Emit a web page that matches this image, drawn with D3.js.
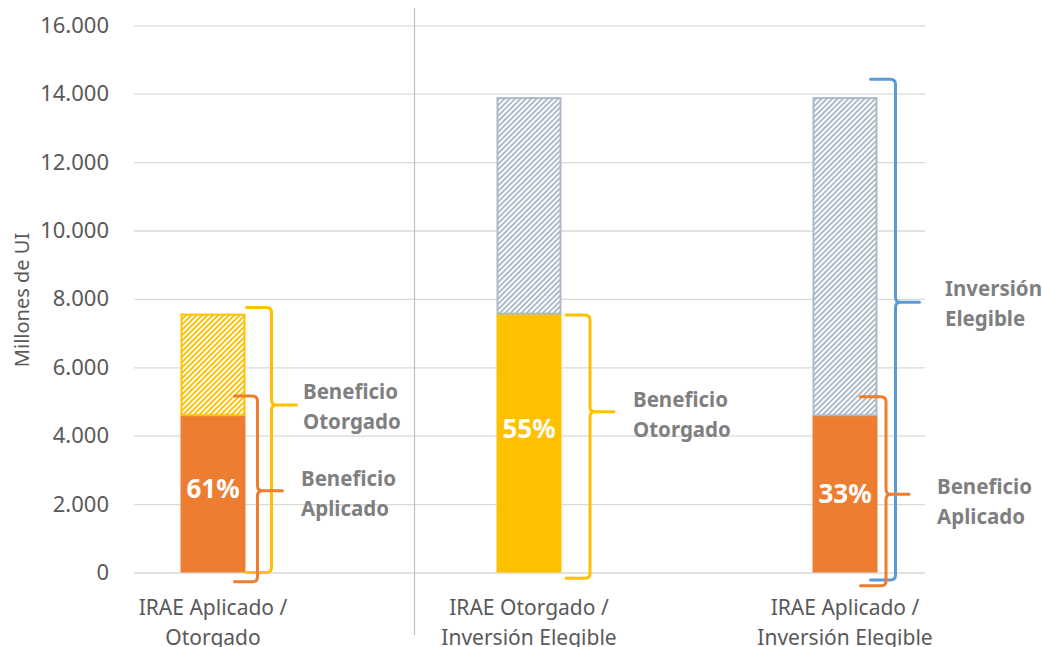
<!DOCTYPE html>
<html><head><meta charset="utf-8">
<script src="https://cdn.jsdelivr.net/npm/d3@7"></script>
<style>body{margin:0;background:#fff;} svg{display:block;}</style>
</head><body>
<svg id="chart" width="1042" height="647"></svg>
<script>
// ---- data ----
const categories = ["IRAE Aplicado / Otorgado", "IRAE Otorgado / Inversión Elegible", "IRAE Aplicado / Inversión Elegible"];
const categoryLines = [["IRAE Aplicado /", "Otorgado"], ["IRAE Otorgado /", "Inversión Elegible"], ["IRAE Aplicado /", "Inversión Elegible"]];
const baseValues = [4600, 7570, 4600];          // solid segment
const totalValues = [7570, 13900, 13900];       // top of hatched segment
const baseSeries = ["aplicado", "otorgado", "aplicado"];
const topSeries = ["otorgado", "inversion", "inversion"];
const percentLabels = ["61%", "55%", "33%"];
const yTicks = [0, 2000, 4000, 6000, 8000, 10000, 12000, 14000, 16000];

// ---- annotation braces (values in data units) ----
const braces = [
  {cat: 0, from: 7750, to: 0, tip: 4900, color: "#FFC000", dx: 26, start: 1, tipLen: 25, lines: ["Beneficio", "Otorgado"], lx: 303, ly: 4900},
  {cat: 0, from: 5160, to: -270, tip: 2390, color: "#ED7D31", dx: 12, start: -11, tipLen: 25, lines: ["Beneficio", "Aplicado"], lx: 301, ly: 2350},
  {cat: 1, from: 7530, to: -170, tip: 4700, color: "#FFC000", dx: 28.5, start: 4.5, tipLen: 24, lines: ["Beneficio", "Otorgado"], lx: 633, ly: 4650},
  {cat: 2, from: 14420, to: -220, tip: 7900, color: "#5B9BD5", dx: 18, start: -7, tipLen: 24, lines: ["Inversión", "Elegible"], lx: 945, ly: 7900},
  {cat: 2, from: 5140, to: -385, tip: 2290, color: "#ED7D31", dx: 8.5, start: -17, tipLen: 23, lines: ["Beneficio", "Aplicado"], lx: 937, ly: 2130}
];

const colors = {aplicado: "#ED7D31", otorgado: "#FFC000", inversion: "#ADB9CA"};

const svg = d3.select("#chart");
const font = "'Noto Sans', 'DejaVu Sans', sans-serif";
const plotLeft = 134, plotRight = 925;
const y = d3.scaleLinear().domain([0, 16000]).range([572.5, 25.3]);
const x = d3.scalePoint().domain(categories).range([213, 845]);
const barW = 65;

const loc = d3.formatLocale({decimal: ",", thousands: ".", grouping: [3], currency: ["", ""]});
const fmt = loc.format(",.0f");

// patterns
const defs = svg.append("defs");
function hatch(id, color) {
  const s = 3.8;
  const p = defs.append("pattern").attr("id", id).attr("patternUnits", "userSpaceOnUse")
    .attr("width", s).attr("height", s).attr("patternTransform", "rotate(45)");
  p.append("rect").attr("width", s).attr("height", s).attr("fill", "#fff");
  p.append("rect").attr("width", s * 0.5).attr("height", s).attr("fill", color);
}
hatch("h-otorgado", colors.otorgado);
hatch("h-inversion", colors.inversion);

// gridlines + y axis
const yAxis = d3.axisLeft(y).tickValues(yTicks).tickFormat(d => fmt(d))
  .tickSize(-(plotRight - plotLeft)).tickPadding(25);
const ga = svg.append("g").attr("transform", `translate(${plotLeft},0)`).call(yAxis);
ga.select(".domain").remove();
ga.selectAll(".tick line").attr("stroke", "#d9d9d9").attr("stroke-width", 1.3);
ga.selectAll(".tick text").attr("fill", "#595959").attr("font-size", 22).attr("font-family", font);

// separator line
svg.append("line").attr("x1", 414.5).attr("x2", 414.5).attr("y1", 8).attr("y2", 635)
  .attr("stroke", "#bfbfbf").attr("stroke-width", 1.2);

// y-axis title
svg.append("text").attr("transform", "translate(29,300) rotate(-90)")
  .attr("text-anchor", "middle").attr("font-family", font).attr("font-size", 20)
  .attr("fill", "#595959").text("Millones de UI");

// bars
const g = svg.append("g");
categories.forEach((c, i) => {
  const cx = x(c);
  g.append("rect").attr("x", cx - barW / 2).attr("width", barW)
    .attr("y", y(baseValues[i])).attr("height", y(0) - y(baseValues[i]))
    .attr("fill", colors[baseSeries[i]]);
  g.append("rect").attr("x", cx - barW / 2 + 1).attr("width", barW - 2)
    .attr("y", y(totalValues[i]) + 1).attr("height", y(baseValues[i]) - y(totalValues[i]) - 1)
    .attr("fill", `url(#h-${topSeries[i]})`)
    .attr("stroke", colors[topSeries[i]]).attr("stroke-width", 2);
});

// percent labels
const pctAt = [2450, 4200, 2300];
categories.forEach((c, i) => {
  svg.append("text").attr("x", x(c)).attr("y", y(pctAt[i]))
    .attr("dy", "0.35em").attr("text-anchor", "middle").attr("font-family", font)
    .attr("font-weight", "bold").attr("font-size", 26).attr("fill", "#fff").text(percentLabels[i]);
});

// braces
braces.forEach(b => {
  const right = x(categories[b.cat]) + barW / 2;
  const xv = right + b.dx, xs = right + b.start, xt = xv + b.tipLen;
  const yT = y(b.from), yB = y(b.to), yM = y(b.tip), r = 5;
  const d = `M${xs},${yT} L${xv - r},${yT} Q${xv},${yT} ${xv},${yT + r} L${xv},${yM - r} Q${xv},${yM} ${xv + r},${yM} L${xt},${yM}` +
            ` M${xv + r},${yM} Q${xv},${yM} ${xv},${yM + r} L${xv},${yB - r} Q${xv},${yB} ${xv - r},${yB} L${xs},${yB}`;
  svg.append("path").attr("d", d).attr("fill", "none").attr("stroke", b.color)
    .attr("stroke-width", 3).attr("stroke-linecap", "round");
  const t = svg.append("text").attr("x", b.lx).attr("y", y(b.ly)).attr("font-family", font)
    .attr("font-weight", "bold").attr("font-size", 20.5).attr("fill", "#7f7f7f");
  b.lines.forEach((ln, k) => {
    t.append("tspan").attr("x", b.lx).attr("dy", k === 0 ? -6 : 30).text(ln);
  });
});

// category labels
categories.forEach((c, i) => {
  const t = svg.append("text").attr("x", x(c)).attr("y", 615).attr("text-anchor", "middle")
    .attr("font-family", font).attr("font-size", 21).attr("fill", "#595959");
  categoryLines[i].forEach((ln, k) => {
    t.append("tspan").attr("x", x(c)).attr("dy", k === 0 ? 0 : 30).text(ln);
  });
});
</script>
</body></html>
